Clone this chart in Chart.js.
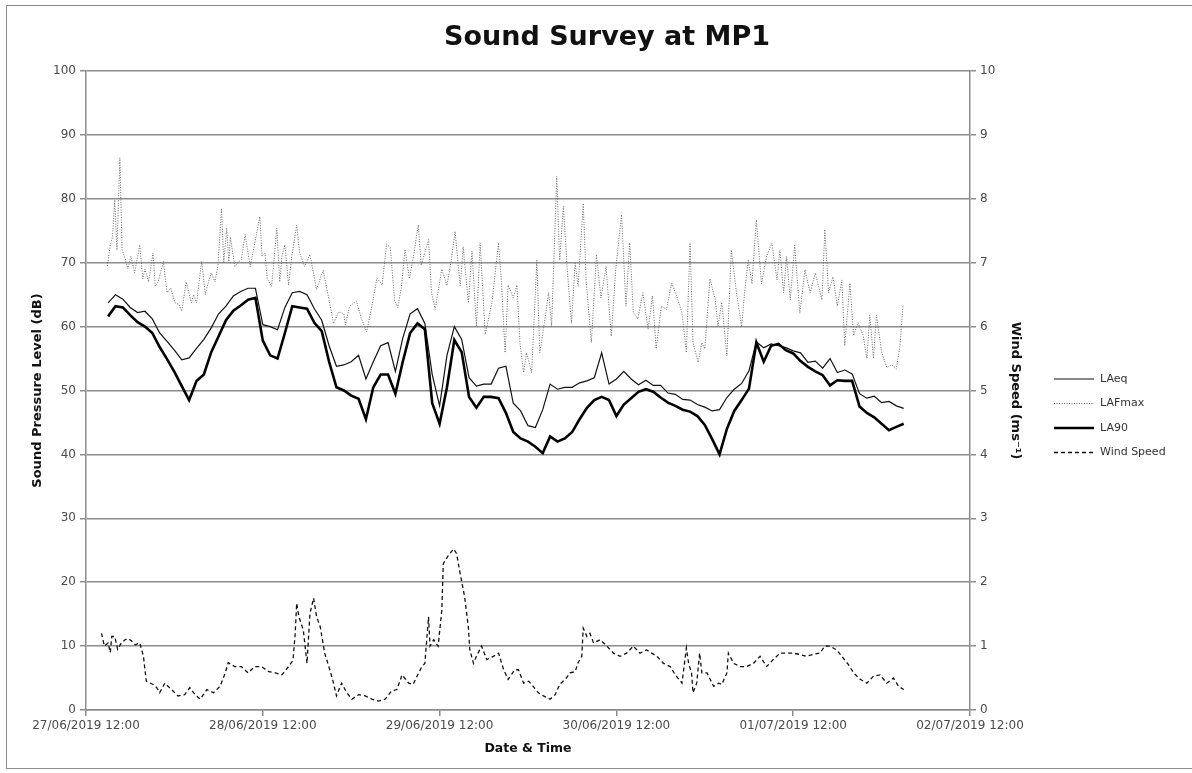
<!DOCTYPE html>
<html>
<head>
<meta charset="utf-8">
<title>Sound Survey at MP1</title>
<script src="https://cdn.jsdelivr.net/npm/chart.js@4.4.0/dist/chart.umd.min.js"></script>
<style>
    body { margin: 0; background: #fff; }
    #frame { position: absolute; left: 6px; top: 5px; width: 1200px; height: 762px; border: 1px solid #8c8c8c; }
    #wrap { position: absolute; left: 0; top: 0; width: 1192px; height: 773px; }
</style>
</head>
<body>
<div id="frame"></div>
<div id="wrap"><canvas id="surveyChart" width="1192" height="773"></canvas></div>
<script>
// hours after 27/06/2019 12:00
const hours = [3, 4, 5, 6, 7, 8, 9, 10, 11, 12, 13, 14, 15, 16, 17, 18, 19, 20, 21, 22,
    23, 24, 25, 26, 27, 28, 29, 30, 31, 32, 33, 34, 35, 36, 37, 38, 39, 40, 41, 42,
    43, 44, 45, 46, 47, 48, 49, 50, 51, 52, 53, 54, 55, 56, 57, 58, 59, 60, 61, 62,
    63, 64, 65, 66, 67, 68, 69, 70, 71, 72, 73, 74, 75, 76, 77, 78, 79, 80, 81, 82,
    83, 84, 85, 86, 87, 88, 89, 90, 91, 92, 93, 94, 95, 96, 97, 98, 99, 100, 101, 102,
    103, 104, 105, 106, 107, 108, 109, 110, 111];

const laeq = [63.7, 65, 64.3, 63, 62.2, 62.4, 61.2, 59, 57.7, 56.3,
    54.8, 55.1, 56.6, 58, 59.8, 62, 63.2, 64.8, 65.5, 66,
    66, 60.3, 60, 59.5, 63, 65.3, 65.5, 65, 62.8, 61,
    57, 53.8, 54, 54.5, 55.5, 51.8, 54.5, 57, 57.5, 53,
    58.2, 62, 62.8, 60.5, 52.5, 47.6, 55.5, 60, 58, 52,
    50.7, 51, 51, 53.5, 53.8, 48, 46.8, 44.5, 44.2, 47,
    51, 50.2, 50.5, 50.5, 51.2, 51.5, 52, 55.9, 51, 51.8,
    53, 51.8, 50.9, 51.6, 50.8, 50.8, 49.6, 49.4, 48.6, 48.5,
    47.8, 47.4, 46.8, 47, 48.9, 50.2, 51.1, 53.1, 57.6, 56.7,
    57.3, 57, 56.7, 56.2, 55.9, 54.4, 54.6, 53.5, 55, 52.8,
    53.2, 52.6, 49.5, 48.8, 49.1, 48.1, 48.3, 47.6, 47.2];

const la90 = [61.6, 63.2, 63, 61.8, 60.7, 60, 59, 56.8, 54.9, 52.9,
    50.7, 48.5, 51.5, 52.5, 56, 58.5, 61, 62.5, 63.3, 64.2,
    64.5, 57.8, 55.5, 55, 59, 63.2, 63, 62.8, 60.6, 59.3,
    54.5, 50.5, 50, 49.2, 48.7, 45.5, 50.5, 52.5, 52.5, 49.5,
    54.5, 59, 60.5, 59.6, 48, 44.8, 50.5, 57.9, 56, 49,
    47.3, 49, 49, 48.8, 46.5, 43.5, 42.5, 42, 41.2, 40.2,
    42.8, 42, 42.5, 43.5, 45.5, 47.3, 48.5, 49, 48.5, 46,
    47.8, 48.8, 49.8, 50.2, 49.8, 48.9, 48.1, 47.6, 47, 46.7,
    46, 44.6, 42.4, 40, 44, 46.8, 48.5, 50.3, 57.5, 54.5,
    57, 57.3, 56.3, 55.8, 54.6, 53.7, 53, 52.4, 50.8, 51.6,
    51.5, 51.5, 47.5, 46.5, 45.8, 44.8, 43.8, 44.3, 44.8];

const lafmaxHours = [2.9, 3.3, 3.6, 3.9, 4.2, 4.6, 4.9, 5.3, 5.7, 6.1, 6.6, 7.3, 7.7, 8, 8.5, 9.1, 9.4, 9.8,
    10.5, 11, 11.5, 12.1, 12.6, 13, 13.6, 14.3, 14.6, 15, 15.7, 16.2, 16.5, 17, 17.5, 17.9, 18.4, 18.7,
    19.1, 19.4, 19.6, 20.2, 20.6, 21.1, 21.6, 22.3, 22.9, 23.6, 23.9, 24.3, 24.6, 25.2, 25.9, 26.3,
    26.6, 27, 27.5, 27.9, 28.6, 29, 29.7, 30.4, 31.3, 31.8, 32.2, 32.9, 33.6, 34.3, 35, 35.2,
    35.8, 36.7, 37.4, 38.1, 38.8, 39.5, 40.2, 40.8, 41.3, 41.9, 42.3, 42.8, 43.3, 43.9, 44.4, 45.1,
    45.5, 46.5, 46.9, 47.4, 48.3, 49, 49.6, 50.1, 50.8, 51.2, 51.9, 52.4, 53, 53.5, 54.2, 55.1,
    56, 56.4, 56.9, 57.3, 58, 58.5, 58.9, 59.4, 59.8, 60.5, 61.2, 61.6, 62.3, 62.8, 63.2, 63.9,
    64.3, 64.8, 65.3, 65.9, 66.4, 66.8, 67.5, 67.9, 68.6, 69.3, 69.9, 70.6, 71.3, 71.9, 72.7, 73.3,
    73.8, 74.3, 74.9, 75.6, 76.3, 76.9, 77.4, 78.1, 78.8, 79.5, 80.2, 80.9, 81.5, 82, 82.4, 83.1,
    83.6, 84, 84.7, 85.4, 85.8, 86.3, 87, 87.6, 88.3, 89, 89.4, 89.9, 90.4, 91, 91.7, 92.4,
    93.1, 93.8, 94.2, 94.7, 95.1, 95.6, 96.2, 96.9, 97.6, 98.3, 99, 99.9, 100.3, 100.8, 101.4, 102,
    102.6, 103, 103.7, 104.2, 104.8, 105.5, 106, 106.4, 106.9, 107.3, 108, 108.7, 109.4, 110, 110.5, 110.9];

const lafmax = [69.5, 72.8, 74, 79.8, 72, 86.4, 72, 70.7, 69, 71, 68.4, 72.8, 67.5, 69, 67, 71.5, 66.3, 67,
    70.2, 65.3, 66, 63.7, 63.5, 62.4, 67, 63.7, 65, 63.7, 70.2, 65, 66.5, 68.4, 67, 69.4, 78.5, 70,
    75.4, 70, 74, 69.4, 70, 70.5, 74.4, 69.4, 73, 77.2, 71, 71.5, 67.5, 66.3, 75.4, 67,
    71, 72.8, 66.5, 70.7, 75.9, 71.5, 69.4, 71.3, 65.8, 67.5, 68.8, 64.7, 60.5, 62.3, 62, 60.3,
    63.2, 64, 61.2, 59.2, 63.2, 67.6, 66.5, 72.9, 72.4, 64, 63, 66, 72.1, 67.5, 70.6, 75.9,
    69.6, 73.6, 65.3, 62.7, 69, 66.4, 70.5, 74.9, 66.4, 72.5, 63.7, 71.8, 60, 73.1, 58.8, 63.7,
    73.1, 67, 55.9, 66.5, 64.5, 66.5, 57.5, 52.8, 55.9, 52.8, 70.4, 55.9, 61.2, 65.3, 60, 83.5,
    70.4, 78.8, 69.4, 60.5, 69.9, 66.3, 79.3, 67, 57.5, 71.3, 64.5, 69.4, 58.5, 68.9, 77.5, 63.2,
    73.1, 62.2, 61.2, 65.3, 59.6, 64.8, 56.5, 63.2, 62.7, 66.8, 64.7, 62.2, 55.9, 73.1, 57.5, 54.4,
    57.5, 56.5, 67.5, 64.3, 60.1, 63.8, 55.4, 72, 65.3, 60, 65.3, 70.4, 66.7, 76.7, 66.7, 71,
    73.1, 67.3, 72, 65.3, 71, 64.2, 72.7, 62.1, 68.9, 65.3, 68.4, 64.2, 75.2, 65.3, 67.8, 63.2,
    67.3, 57, 66.8, 58.6, 60.6, 58.6, 55, 61.8, 55, 61.8, 56, 53.6, 54, 53.4, 57, 63.2];

const windHours = [2.1, 2.5, 3, 3.3, 3.5, 3.9, 4.3, 4.8, 5.3, 5.7, 6.2, 6.7, 7.3, 7.8, 8, 8.2, 9.1, 9.6,
    10, 10.7, 11.6, 12.5, 13.4, 14.1, 14.8, 15.5, 16.4, 17.3, 18.2, 18.9, 19.3, 20.2, 21.1, 22,
    22.9, 23.8, 24.8, 25.7, 26.6, 27.5, 28.1, 28.4, 28.6, 28.9, 29.5, 30, 30.4, 30.9, 31.3, 31.8,
    32.4, 33.1, 33.6, 34, 34.7, 35.4, 36.1, 37, 37.9, 38.8, 39.7, 40.6, 41.5, 42.2, 42.9, 43.8,
    44.4, 44.9, 45.6, 46, 46.5, 46.7, 47.2, 47.8, 48.3, 48.5, 49.2, 49.9, 50.3, 50.8, 51.4, 51.9,
    52.1, 52.6, 53, 53.7, 54.4, 55.3, 56, 56.7, 57.3, 58.2, 58.7, 59.4, 60.1, 60.7, 61.4, 62.1,
    63, 63.7, 64.3, 65.2, 65.7, 66.4, 66.8, 67.3, 67.5, 68, 68.4, 68.9, 69.8, 70.7, 71.6, 72.5,
    73.4, 74.3, 75.2, 76.1, 76.8, 77.5, 78.4, 79.3, 80, 80.9, 81.5, 81.8, 82.2, 82.4, 82.9, 83.3,
    83.6, 84.3, 85.2, 85.9, 86.3, 87, 87.2, 87.9, 88.8, 89.7, 90.6, 91.5, 92.4, 93.3, 94.2, 95.1,
    96, 96.9, 97.8, 98.7, 99.6, 100.3, 101, 101.9, 102.6, 103.5, 104.2, 105.1, 106, 106.9, 107.8, 108.7,
    109.6, 110.3, 111];

const windSpeed = [1.2, 1.0, 1.05, 0.9, 1.15, 1.15, 0.95, 1.05, 1.1, 1.12, 1.08, 1.02, 1.05, 0.84, 0.63, 0.45, 0.4, 0.35,
    0.27, 0.42, 0.32, 0.22, 0.24, 0.35, 0.24, 0.17, 0.32, 0.27, 0.37, 0.58, 0.74, 0.68, 0.68, 0.58,
    0.68, 0.68, 0.6, 0.58, 0.55, 0.68, 0.78, 1.2, 1.67, 1.46, 1.25, 0.73, 1.51, 1.75, 1.46, 1.3,
    0.89, 0.63, 0.42, 0.22, 0.42, 0.27, 0.17, 0.24, 0.22, 0.17, 0.14, 0.17, 0.3, 0.32, 0.55, 0.42,
    0.4, 0.52, 0.68, 0.73, 1.46, 1.0, 1.1, 1.0, 1.56, 2.29, 2.42, 2.52, 2.45, 2.13, 1.77, 1.3,
    0.94, 0.73, 0.84, 1.0, 0.79, 0.84, 0.89, 0.63, 0.48, 0.63, 0.63, 0.42, 0.45, 0.37, 0.27, 0.22,
    0.17, 0.24, 0.4, 0.5, 0.58, 0.6, 0.74, 0.84, 1.28, 1.15, 1.2, 1.05, 1.1, 1.0, 0.89, 0.84,
    0.89, 1.0, 0.89, 0.94, 0.89, 0.84, 0.73, 0.68, 0.55, 0.42, 0.97, 0.73, 0.58, 0.27, 0.42, 0.89,
    0.58, 0.58, 0.37, 0.42, 0.4, 0.58, 0.89, 0.73, 0.68, 0.68, 0.73, 0.84, 0.68, 0.79, 0.89, 0.89,
    0.89, 0.87, 0.84, 0.87, 0.89, 1.0, 1.0, 0.94, 0.84, 0.71, 0.58, 0.48, 0.42, 0.53, 0.55, 0.42,
    0.5, 0.37, 0.32];

const dateLabels = ['27/06/2019 12:00', '28/06/2019 12:00', '29/06/2019 12:00',
    '30/06/2019 12:00', '01/07/2019 12:00', '02/07/2019 12:00'];

function toPoints(xs, ys) {
    return xs.map(function(x, i) { return { x: x, y: ys[i] }; });
}

const gridGrey = '#8c8c8c';
const tickColor = '#4a4a4a';
const fontFamily = '"DejaVu Sans", sans-serif';

// title and legend drawn by hand, to sit where the original has them
const decorations = {
    id: 'decorations',
    afterDraw: function(chart) {
        const ctx = chart.ctx;
        ctx.save();
        ctx.fillStyle = '#111';
        ctx.font = 'bold 27px ' + fontFamily;
        ctx.textAlign = 'center';
        ctx.textBaseline = 'middle';
        ctx.fillText('Sound Survey at MP1', 607, 38);

        ctx.font = '11px ' + fontFamily;
        ctx.textAlign = 'left';
        chart.data.datasets.forEach(function(ds, i) {
            const y = 379 + i * 24.5;
            ctx.beginPath();
            ctx.strokeStyle = ds.borderColor;
            ctx.lineWidth = ds.borderWidth;
            ctx.setLineDash(ds.borderDash || []);
            ctx.moveTo(1054, y);
            ctx.lineTo(1094, y);
            ctx.stroke();
            ctx.setLineDash([]);
            ctx.fillStyle = '#333';
            ctx.fillText(ds.label, 1100, y);
        });
        ctx.restore();
    }
};

const ctx = document.getElementById('surveyChart').getContext('2d');
new Chart(ctx, {
    type: 'line',
    data: {
        datasets: [{
            label: 'LAeq',
            data: toPoints(hours, laeq),
            borderColor: '#111',
            borderWidth: 1.2,
            yAxisID: 'y',
            order: 2
        }, {
            label: 'LAFmax',
            data: toPoints(lafmaxHours, lafmax),
            borderColor: '#666',
            borderWidth: 1,
            borderDash: [1, 1.5],
            yAxisID: 'y',
            order: 3
        }, {
            label: 'LA90',
            data: toPoints(hours, la90),
            borderColor: '#000',
            borderWidth: 2.6,
            yAxisID: 'y',
            order: 1
        }, {
            label: 'Wind Speed',
            data: toPoints(windHours, windSpeed),
            borderColor: '#111',
            borderWidth: 1.3,
            borderDash: [4, 3],
            yAxisID: 'y2',
            order: 4
        }]
    },
    options: {
        responsive: false,
        animation: false,
        layout: { padding: { left: 26, top: 71, right: 165, bottom: 13 } },
        elements: { point: { radius: 0 }, line: { tension: 0 } },
        plugins: {
            legend: { display: false },
            tooltip: { enabled: false }
        },
        scales: {
            x: {
                type: 'linear',
                min: 0,
                max: 120,
                afterFit: function(s) { s.height = 50; },
                afterBuildTicks: function(s) {
                    s.ticks = dateLabels.map(function(l, i) { return { value: i * 24 }; });
                },
                ticks: {
                    autoSkip: false,
                    maxRotation: 0,
                    padding: 3,
                    color: tickColor,
                    font: { family: fontFamily, size: 12 },
                    callback: function(v) { return dateLabels[v / 24]; }
                },
                grid: { drawOnChartArea: false, color: gridGrey, tickLength: 6, lineWidth: 1.5 },
                border: { color: gridGrey, width: 1.5 },
                title: {
                    display: true,
                    text: 'Date & Time',
                    color: '#111',
                    font: { family: fontFamily, size: 12.5, weight: 'bold' }
                }
            },
            y: {
                position: 'left',
                min: 0,
                max: 100,
                afterFit: function(s) { s.width = 60; },
                ticks: { stepSize: 10, color: tickColor, padding: 4, font: { family: fontFamily, size: 12 } },
                grid: { color: gridGrey, lineWidth: 1.5, tickLength: 6 },
                border: { color: gridGrey, width: 1.5 },
                title: {
                    display: true,
                    text: 'Sound Pressure Level (dB)',
                    color: '#111',
                    font: { family: fontFamily, size: 13, weight: 'bold' }
                }
            },
            y2: {
                position: 'right',
                min: 0,
                max: 10,
                afterFit: function(s) { s.width = 57; },
                ticks: { stepSize: 1, color: tickColor, padding: 4, font: { family: fontFamily, size: 12 } },
                grid: { drawOnChartArea: false, color: gridGrey, lineWidth: 1.5, tickLength: 6 },
                border: { color: gridGrey, width: 1.5 },
                title: {
                    display: true,
                    text: 'Wind Speed (ms\u207B\u00B9)',
                    color: '#111',
                    font: { family: fontFamily, size: 13, weight: 'bold' }
                }
            }
        }
    },
    plugins: [decorations]
});
</script>
</body>
</html>
